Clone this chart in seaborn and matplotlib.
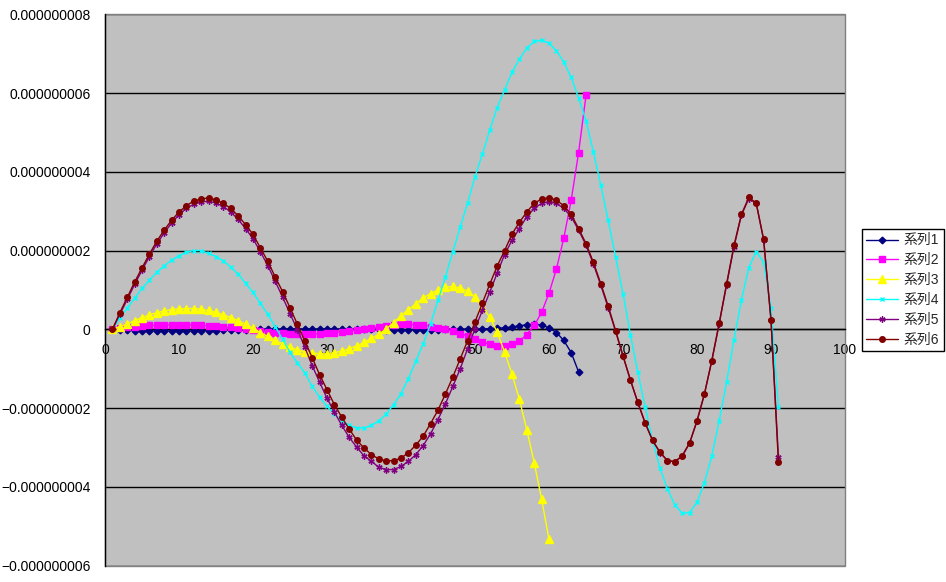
import numpy as np
import matplotlib
matplotlib.use("Agg")
import matplotlib.pyplot as plt
from matplotlib.patches import Rectangle
import seaborn as sns

# values are in units of 1e-9 (the tick labels carry the real numbers)
s1 = [0, -0.01, -0.02, -0.03, -0.03, -0.04, -0.04, -0.04, -0.04, -0.04,
      -0.04, -0.04, -0.03, -0.03, -0.03, -0.02, -0.02, -0.01, -0.01, 0,
      0, 0.01, 0.01, 0.01, 0.01, 0.01, 0.01, 0.01, 0.01, 0.01,
      0.01, 0.01, 0.01, 0, 0, 0, 0, -0.01, -0.01, -0.01,
      -0.01, -0.01, -0.01, -0.01, -0.01, 0, 0, 0, 0.01, 0.01,
      0.01, 0.02, 0.03, 0.04, 0.06, 0.09, 0.12, 0.13, 0.11, 0.04,
      -0.08, -0.28, -0.59, -1.08]
s2 = [0, 0.04, 0.06, 0.07, 0.08, 0.10, 0.10, 0.11, 0.12, 0.12,
      0.12, 0.11, 0.10, 0.09, 0.08, 0.06, 0.05, 0.03, 0.01, -0.02,
      -0.05, -0.07, -0.09, -0.10, -0.11, -0.12, -0.12, -0.12, -0.11, -0.10,
      -0.08, -0.06, -0.04, -0.02, 0.01, 0.03, 0.06, 0.09, 0.11, 0.13,
      0.13, 0.12, 0.11, 0.07, 0.04, 0.00, -0.05, -0.11, -0.16, -0.24,
      -0.32, -0.38, -0.41, -0.41, -0.38, -0.30, -0.13, 0.10, 0.43, 0.92,
      1.53, 2.32, 3.28, 4.49, 5.94]
s3 = [0, 0.07, 0.14, 0.22, 0.30, 0.37, 0.42, 0.47, 0.50, 0.52,
      0.53, 0.53, 0.51, 0.48, 0.43, 0.37, 0.30, 0.22, 0.13, 0.03,
      -0.08, -0.18, -0.28, -0.37, -0.45, -0.52, -0.57, -0.60, -0.62, -0.62,
      -0.59, -0.55, -0.49, -0.42, -0.33, -0.23, -0.12, 0.01, 0.17, 0.35,
      0.50, 0.65, 0.80, 0.91, 1.00, 1.07, 1.09, 1.05, 0.97, 0.82,
      0.56, 0.31, -0.07, -0.58, -1.13, -1.78, -2.55, -3.38, -4.31, -5.33]
s4 = [0, 0.28, 0.54, 0.79, 1.04, 1.25, 1.45, 1.61, 1.76, 1.87,
      1.96, 2.00, 2.00, 1.93, 1.85, 1.74, 1.58, 1.40, 1.17, 0.94,
      0.66, 0.38, 0.07, -0.25, -0.58, -0.85, -1.10, -1.45, -1.72, -1.95,
      -2.15, -2.32, -2.44, -2.50, -2.50, -2.44, -2.32, -2.15, -1.91, -1.63,
      -1.25, -0.81, -0.36, 0.14, 0.74, 1.33, 1.97, 2.59, 3.21, 3.88,
      4.45, 5.06, 5.63, 6.08, 6.53, 6.86, 7.14, 7.31, 7.34, 7.27,
      7.08, 6.79, 6.40, 5.87, 5.30, 4.51, 3.66, 2.77, 1.84, 0.91,
      -0.13, -1.09, -1.98, -2.82, -3.52, -4.05, -4.45, -4.67, -4.65, -4.39,
      -3.89, -3.21, -2.32, -1.34, -0.26, 0.74, 1.57, 1.97, 1.71, 0.54,
      -1.98]
s5 = [0, 0.38, 0.76, 1.14, 1.50, 1.85, 2.17, 2.45, 2.70, 2.91,
      3.07, 3.18, 3.24, 3.25, 3.21, 3.12, 2.98, 2.79, 2.56, 2.30,
      1.97, 1.62, 1.22, 0.82, 0.40, -0.01, -0.45, -0.92, -1.34, -1.75,
      -2.10, -2.44, -2.74, -2.99, -3.21, -3.35, -3.50, -3.56, -3.56, -3.48,
      -3.35, -3.18, -2.95, -2.65, -2.29, -1.89, -1.45, -1.00, -0.49, 0.02,
      0.48, 0.95, 1.43, 1.90, 2.26, 2.56, 2.86, 3.07, 3.20, 3.24,
      3.20, 3.07, 2.86, 2.52, 2.14, 1.66, 1.12, 0.55, -0.05, -0.68,
      -1.29, -1.86, -2.38, -2.82, -3.13, -3.33, -3.36, -3.22, -2.89, -2.33,
      -1.65, -0.80, 0.14, 1.13, 2.10, 2.90, 3.32, 3.20, 2.28, 0.25,
      -3.23]
s6 = [0, 0.42, 0.81, 1.20, 1.56, 1.91, 2.24, 2.52, 2.77, 2.98,
      3.14, 3.26, 3.31, 3.34, 3.29, 3.20, 3.07, 2.88, 2.66, 2.41,
      2.07, 1.73, 1.33, 0.96, 0.55, 0.13, -0.29, -0.72, -1.15, -1.53,
      -1.91, -2.23, -2.53, -2.81, -3.01, -3.18, -3.29, -3.34, -3.33, -3.27,
      -3.13, -2.94, -2.71, -2.39, -2.05, -1.64, -1.21, -0.75, -0.29, 0.19,
      0.67, 1.15, 1.61, 2.00, 2.42, 2.72, 2.98, 3.20, 3.31, 3.34,
      3.28, 3.14, 2.92, 2.56, 2.18, 1.70, 1.16, 0.59, -0.03, -0.67,
      -1.28, -1.85, -2.38, -2.82, -3.12, -3.33, -3.36, -3.21, -2.88, -2.32,
      -1.64, -0.79, 0.16, 1.16, 2.13, 2.92, 3.35, 3.21, 2.29, 0.23,
      -3.36]

series_names = ["系列1", "系列2", "系列3", "系列4", "系列5", "系列6"]
series_vals = [s1, s2, s3, s4, s5, s6]

xtick_vals = [0, 10, 20, 30, 40, 50, 60, 70, 80, 90, 100]
ytick_vals = [-6, -4, -2, 0, 2, 4, 6, 8]
ytick_labels = ["\u22120.000000006", "\u22120.000000004", "\u22120.000000002", "0",
                "0.000000002", "0.000000004", "0.000000006", "0.000000008"]

# style per series (excel 2003 look)
colors = ["#000080", "#FF00FF", "#FFFF00", "#00FFFF", "#800080", "#800000"]
markers = ["D", "s", "^", "x", (6, 2, 0), "o"]
msizes = [3.4, 4.0, 5.2, 3.4, 4.4, 4.0]

sns.set_style("white")
plt.rcParams['font.family'] = ['Liberation Sans', 'Noto Sans CJK JP', 'DejaVu Sans']

fig = plt.figure(figsize=(9.46, 5.82), dpi=100)
ax = fig.add_axes([105 / 946, 1 - 565.7 / 582, 740 / 946, 551.4 / 582])
ax.set_facecolor("#C0C0C0")

for name, vals, c, m, ms in zip(series_names, series_vals, colors, markers, msizes):
    xs = np.arange(1, len(vals) + 1)
    sns.lineplot(x=xs, y=vals, ax=ax, color=c, marker=m, markersize=ms,
                 markeredgecolor=c, markerfacecolor=c, markeredgewidth=1,
                 linewidth=1, label=name, sort=False, zorder=3)

ax.set_xlim(0, 100)
ax.set_ylim(-6, 8)
ax.set_xticks(xtick_vals)
ax.set_xticklabels([str(v) for v in xtick_vals])
ax.set_yticks(ytick_vals)
ax.set_yticklabels(ytick_labels)
ax.set_xlabel("")
ax.set_ylabel("")

ax.yaxis.grid(True, color="black", linewidth=1)
ax.xaxis.grid(False)
ax.set_axisbelow(True)

ax.spines['bottom'].set_position(('data', 0))
ax.spines['bottom'].set_color("black")
ax.spines['bottom'].set_linewidth(1)
ax.spines['bottom'].set_zorder(2.6)
ax.spines['left'].set_color("black")
ax.spines['left'].set_linewidth(1)
ax.spines['left'].set_zorder(2.6)
ax.spines['top'].set_visible(False)
ax.spines['right'].set_visible(False)

# gray plot area border like excel
ax.add_patch(Rectangle((0, 0), 1, 1, transform=ax.transAxes, fill=False,
                       edgecolor="#808080", linewidth=1, zorder=2.5, clip_on=False))

ax.tick_params(axis='x', direction='in', length=3, width=1, pad=10, labelsize=10, colors='black')
ax.tick_params(axis='y', direction='in', length=3, width=1, pad=10.5, labelsize=10, colors='black')

leg = ax.legend(loc='center', bbox_to_anchor=(903 / 946, 1 - 290 / 582),
                bbox_transform=fig.transFigure, frameon=True, fancybox=False,
                edgecolor='black', framealpha=1, fontsize=10, handlelength=2.3,
                labelspacing=0.42, borderpad=0.35, handletextpad=0.4, borderaxespad=0)
leg.get_frame().set_linewidth(1)

fig.savefig("out.png", dpi=100)
